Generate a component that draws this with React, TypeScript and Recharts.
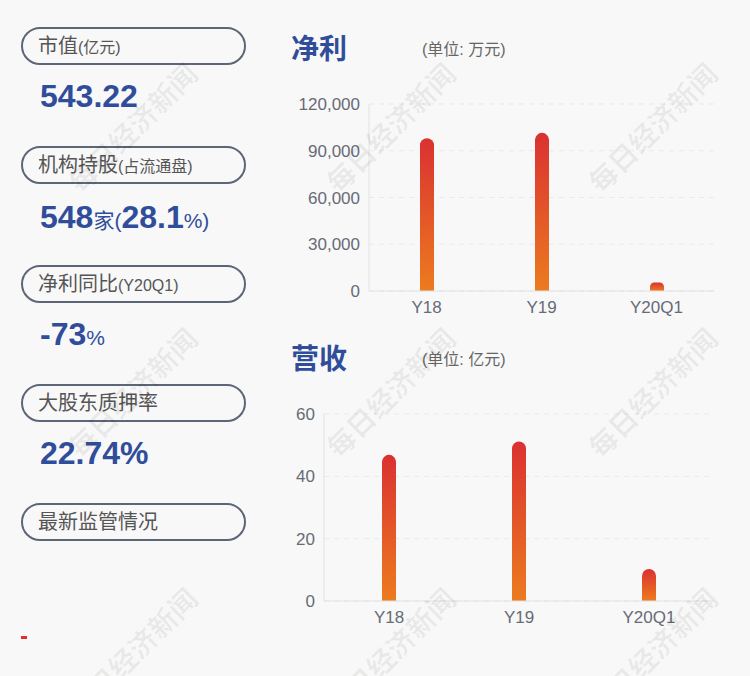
import React from 'react';
import { BarChart, Bar, XAxis, YAxis, CartesianGrid } from 'recharts';

const categories = ['Y18', 'Y19', 'Y20Q1'];
const netProfitValues = [98000, 101500, 5500];
const revenueValues = [46.9, 51.2, 10.3];
const netProfitTicks = [0, 30000, 60000, 90000, 120000];
const revenueTicks = [0, 20, 40, 60];

const FONT = '"Liberation Sans", Arial, "Noto Sans CJK SC", sans-serif';
const BLUE = '#2f4d9b';
const TICK = { fontSize: 17, fill: '#676b76' };

const netProfitData = categories.map((name, i) => ({ name, value: netProfitValues[i] }));
const revenueData = categories.map((name, i) => ({ name, value: revenueValues[i] }));

const pillTops = [27, 146, 265, 384, 503];

const Pill = ({ top, main, sub }: { top: number; main: string; sub?: string }) => (
  <div
    style={{
      position: 'absolute',
      left: 21,
      top,
      width: 225,
      height: 38,
      boxSizing: 'border-box',
      border: '2px solid #5d6677',
      borderRadius: 19,
      paddingLeft: 15,
      lineHeight: '34px',
      color: '#555',
      fontSize: 20,
      whiteSpace: 'nowrap',
    }}
  >
    {main}
    {sub && <span style={{ fontSize: 16 }}>{sub}</span>}
  </div>
);

const Value = ({ top, children }: { top: number; children: React.ReactNode }) => (
  <div
    style={{
      position: 'absolute',
      left: 40,
      top: top - 20,
      lineHeight: '40px',
      color: BLUE,
      fontSize: 32,
      fontWeight: 'bold',
      whiteSpace: 'nowrap',
    }}
  >
    {children}
  </div>
);

const small = { fontSize: 21, fontWeight: 'normal' as const };

const Title = ({ top, text, unit }: { top: number; text: string; unit: string }) => (
  <>
    <div style={{ position: 'absolute', left: 291, top: top - 18, lineHeight: '36px', fontSize: 28, fontWeight: 'bold', color: BLUE }}>
      {text}
    </div>
    <div style={{ position: 'absolute', left: 422, top: top - 11, lineHeight: '22px', fontSize: 16, color: '#666' }}>
      {unit}
    </div>
  </>
);

const BarPanel = ({ data, ticks, yWidth, gradId, formatter }: any) => (
  <BarChart
    width={470}
    height={241}
    data={data}
    margin={{ top: 24, right: 36, bottom: 0, left: 0 }}
  >
    <defs>
      <linearGradient id={gradId} x1="0" y1="0" x2="0" y2="1">
        <stop offset="0%" stopColor="#da3131" />
        <stop offset="100%" stopColor="#ec7b1f" />
      </linearGradient>
    </defs>
    <CartesianGrid vertical={false} stroke="#e9e9e9" strokeDasharray="5 5" />
    <XAxis
      dataKey="name"
      tick={TICK}
      tickLine={false}
      axisLine={{ stroke: '#e2e2e2' }}
      tickMargin={4}
      height={30}
    />
    <YAxis
      width={yWidth}
      domain={[ticks[0], ticks[ticks.length - 1]]}
      ticks={ticks}
      tick={TICK}
      tickLine={false}
      tickMargin={3}
      axisLine={{ stroke: '#e2e2e2' }}
      tickFormatter={formatter}
      interval={0}
    />
    <Bar dataKey="value" fill={`url(#${gradId})`} barSize={14} radius={[7, 7, 0, 0]} isAnimationActive={false} />
  </BarChart>
);

const watermarkX = [135, 393, 655];
const watermarkY = [130, 395, 655];

export default function App() {
  return (
    <div
      style={{
        position: 'absolute',
        left: 0,
        top: 0,
        width: 750,
        height: 676,
        overflow: 'hidden',
        background: '#f8f8f8',
        fontFamily: FONT,
      }}
    >
      <Pill top={pillTops[0]} main="市值" sub="(亿元)" />
      <Value top={96}>543.22</Value>
      <Pill top={pillTops[1]} main="机构持股" sub="(占流通盘)" />
      <Value top={217}>
        548<span style={small}>家(</span>28.1<span style={small}>%)</span>
      </Value>
      <Pill top={pillTops[2]} main="净利同比" sub="(Y20Q1)" />
      <Value top={334}>
        -73<span style={small}>%</span>
      </Value>
      <Pill top={pillTops[3]} main="大股东质押率" />
      <Value top={453}>22.74%</Value>
      <Pill top={pillTops[4]} main="最新监管情况" />
      <div style={{ position: 'absolute', left: 21, top: 636, width: 6, height: 3, background: '#e03131' }} />

      <Title top={50} text="净利" unit="(单位: 万元)" />
      <div style={{ position: 'absolute', left: 280, top: 80 }}>
        <BarPanel
          data={netProfitData}
          ticks={netProfitTicks}
          yWidth={89}
          gradId="gradNet"
          formatter={(v: number) => v.toLocaleString('en-US')}
        />
      </div>

      <Title top={360} text="营收" unit="(单位: 亿元)" />
      <div style={{ position: 'absolute', left: 280, top: 390 }}>
        <BarPanel data={revenueData} ticks={revenueTicks} yWidth={44} gradId="gradRev" />
      </div>

      <svg width={750} height={676} style={{ position: 'absolute', left: 0, top: 0, pointerEvents: 'none' }}>
        {watermarkY.map((y) =>
          watermarkX.map((x) => (
            <text
              key={`${x}-${y}`}
              x={x}
              y={y}
              textAnchor="middle"
              dominantBaseline="middle"
              transform={`rotate(-45 ${x} ${y})`}
              fontSize={28}
              fontWeight="bold"
              fill="#000"
              fillOpacity={0.06}
              fontFamily='"Noto Sans CJK SC", sans-serif'
            >
              每日经济新闻
            </text>
          ))
        )}
      </svg>
    </div>
  );
}
